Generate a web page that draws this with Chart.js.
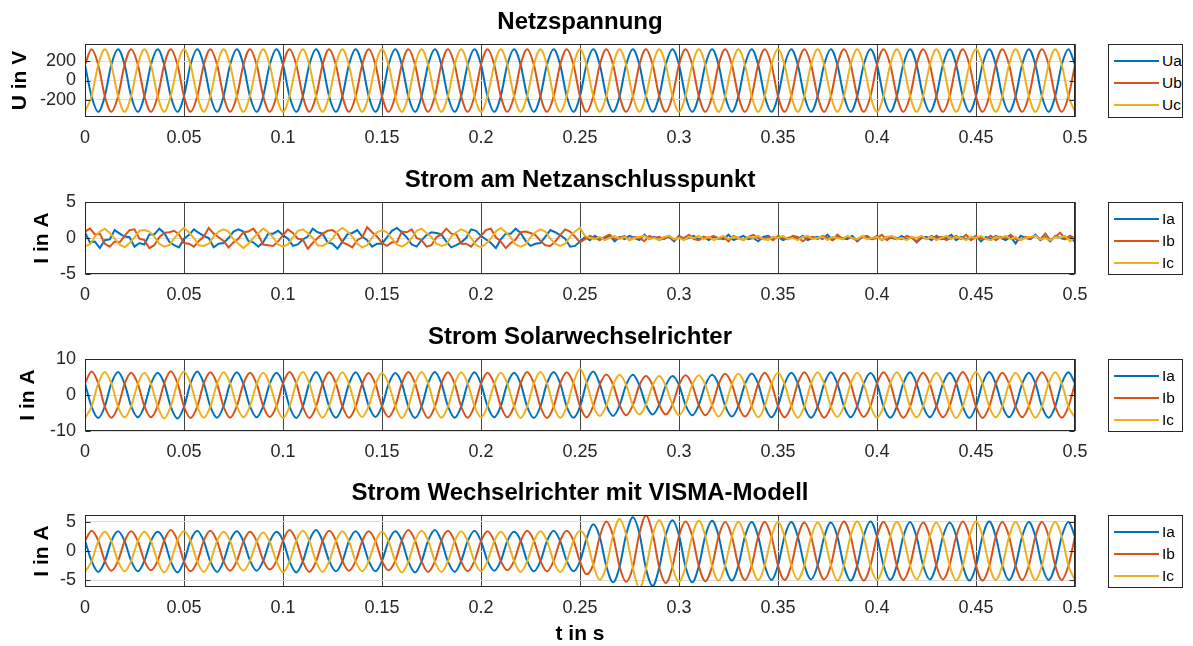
<!DOCTYPE html>
<html>
<head>
<meta charset="utf-8">
<script src="https://cdn.jsdelivr.net/npm/chart.js"></script>
<style>
html, body { margin: 0; padding: 0; background: #fff; overflow: hidden; width: 1193px; height: 646px; }
canvas { position: absolute; left: 0; }
.legende { position: absolute; left: 1108px; width: 75px; border: 1px solid #262626; background: #fff; box-sizing: border-box;
  font-family: "Liberation Sans", Arial, Helvetica, sans-serif; font-size: 15.5px; color: #000; }
.legende .zeile { position: absolute; left: 0; width: 100%; height: 22px; }
.legende .linie { position: absolute; left: 5px; top: 10px; width: 45px; height: 2px; }
.legende .text { position: absolute; left: 53px; top: 0; line-height: 22px; }
</style>
</head>
<body>
<canvas id="netzspannung" width="1193" height="157" style="top:0px"></canvas>
<canvas id="netzstrom" width="1193" height="156" style="top:158px"></canvas>
<canvas id="solarstrom" width="1193" height="156" style="top:315px"></canvas>
<canvas id="vismastrom" width="1193" height="176" style="top:471px"></canvas>
<script>
// Zeitachse (s), 6 Punkte pro Periode
var zeit = [
0,0.0033,0.0067,0.01,0.0133,0.0167,
0.02,0.0233,0.0267,0.03,0.0333,0.0367,
0.04,0.0433,0.0467,0.05,0.0533,0.0567,
0.06,0.0633,0.0667,0.07,0.0733,0.0767,
0.08,0.0833,0.0867,0.09,0.0933,0.0967,
0.1,0.1033,0.1067,0.11,0.1133,0.1167,
0.12,0.1233,0.1267,0.13,0.1333,0.1367,
0.14,0.1433,0.1467,0.15,0.1533,0.1567,
0.16,0.1633,0.1667,0.17,0.1733,0.1767,
0.18,0.1833,0.1867,0.19,0.1933,0.1967,
0.2,0.2033,0.2067,0.21,0.2133,0.2167,
0.22,0.2233,0.2267,0.23,0.2333,0.2367,
0.24,0.2433,0.2467,0.25,0.2533,0.2567,
0.26,0.2633,0.2667,0.27,0.2733,0.2767,
0.28,0.2833,0.2867,0.29,0.2933,0.2967,
0.3,0.3033,0.3067,0.31,0.3133,0.3167,
0.32,0.3233,0.3267,0.33,0.3333,0.3367,
0.34,0.3433,0.3467,0.35,0.3533,0.3567,
0.36,0.3633,0.3667,0.37,0.3733,0.3767,
0.38,0.3833,0.3867,0.39,0.3933,0.3967,
0.4,0.4033,0.4067,0.41,0.4133,0.4167,
0.42,0.4233,0.4267,0.43,0.4333,0.4367,
0.44,0.4433,0.4467,0.45,0.4533,0.4567,
0.46,0.4633,0.4667,0.47,0.4733,0.4767,
0.48,0.4833,0.4867,0.49,0.4933,0.4967,
0.5]

// Zeitachse Netzanschlusspunkt (s), 8 Punkte pro Periode
var zeitNetz = [
0,0.0025,0.005,0.0075,0.01,0.0125,0.015,0.0175,
0.02,0.0225,0.025,0.0275,0.03,0.0325,0.035,0.0375,
0.04,0.0425,0.045,0.0475,0.05,0.0525,0.055,0.0575,
0.06,0.0625,0.065,0.0675,0.07,0.0725,0.075,0.0775,
0.08,0.0825,0.085,0.0875,0.09,0.0925,0.095,0.0975,
0.1,0.1025,0.105,0.1075,0.11,0.1125,0.115,0.1175,
0.12,0.1225,0.125,0.1275,0.13,0.1325,0.135,0.1375,
0.14,0.1425,0.145,0.1475,0.15,0.1525,0.155,0.1575,
0.16,0.1625,0.165,0.1675,0.17,0.1725,0.175,0.1775,
0.18,0.1825,0.185,0.1875,0.19,0.1925,0.195,0.1975,
0.2,0.2025,0.205,0.2075,0.21,0.2125,0.215,0.2175,
0.22,0.2225,0.225,0.2275,0.23,0.2325,0.235,0.2375,
0.24,0.2425,0.245,0.2475,0.25,0.2525,0.255,0.2575,
0.26,0.2625,0.265,0.2675,0.27,0.2725,0.275,0.2775,
0.28,0.2825,0.285,0.2875,0.29,0.2925,0.295,0.2975,
0.3,0.3025,0.305,0.3075,0.31,0.3125,0.315,0.3175,
0.32,0.3225,0.325,0.3275,0.33,0.3325,0.335,0.3375,
0.34,0.3425,0.345,0.3475,0.35,0.3525,0.355,0.3575,
0.36,0.3625,0.365,0.3675,0.37,0.3725,0.375,0.3775,
0.38,0.3825,0.385,0.3875,0.39,0.3925,0.395,0.3975,
0.4,0.4025,0.405,0.4075,0.41,0.4125,0.415,0.4175,
0.42,0.4225,0.425,0.4275,0.43,0.4325,0.435,0.4375,
0.44,0.4425,0.445,0.4475,0.45,0.4525,0.455,0.4575,
0.46,0.4625,0.465,0.4675,0.47,0.4725,0.475,0.4775,
0.48,0.4825,0.485,0.4875,0.49,0.4925,0.495,0.4975,
0.5]

// Netzspannung (V)
var ua = [
163,-163,-325,-163,163,325, 163,-163,-325,-163,163,325, 163,-163,-325,-163,163,325, 163,-163,-325,-163,163,325, 163,-163,-325,-163,163,325,
163,-163,-325,-163,163,325, 163,-163,-325,-163,163,325, 163,-163,-325,-163,163,325, 163,-163,-325,-163,163,325, 163,-163,-325,-163,163,325,
163,-163,-325,-163,163,325, 163,-163,-325,-163,163,325, 163,-163,-325,-163,163,325, 163,-163,-325,-163,163,325, 163,-163,-325,-163,163,325,
163,-163,-325,-163,163,325, 163,-163,-325,-163,163,325, 163,-163,-325,-163,163,325, 163,-163,-325,-163,163,325, 163,-163,-325,-163,163,325,
163,-163,-325,-163,163,325, 163,-163,-325,-163,163,325, 163,-163,-325,-163,163,325, 163,-163,-325,-163,163,325, 163,-163,-325,-163,163,325,
163]
var ub = [
163,325,163,-163,-325,-163, 163,325,163,-163,-325,-163, 163,325,163,-163,-325,-163, 163,325,163,-163,-325,-163, 163,325,163,-163,-325,-163,
163,325,163,-163,-325,-163, 163,325,163,-163,-325,-163, 163,325,163,-163,-325,-163, 163,325,163,-163,-325,-163, 163,325,163,-163,-325,-163,
163,325,163,-163,-325,-163, 163,325,163,-163,-325,-163, 163,325,163,-163,-325,-163, 163,325,163,-163,-325,-163, 163,325,163,-163,-325,-163,
163,325,163,-163,-325,-163, 163,325,163,-163,-325,-163, 163,325,163,-163,-325,-163, 163,325,163,-163,-325,-163, 163,325,163,-163,-325,-163,
163,325,163,-163,-325,-163, 163,325,163,-163,-325,-163, 163,325,163,-163,-325,-163, 163,325,163,-163,-325,-163, 163,325,163,-163,-325,-163,
163]
var uc = [
-325,-163,163,325,163,-163, -325,-163,163,325,163,-163, -325,-163,163,325,163,-163, -325,-163,163,325,163,-163, -325,-163,163,325,163,-163,
-325,-163,163,325,163,-163, -325,-163,163,325,163,-163, -325,-163,163,325,163,-163, -325,-163,163,325,163,-163, -325,-163,163,325,163,-163,
-325,-163,163,325,163,-163, -325,-163,163,325,163,-163, -325,-163,163,325,163,-163, -325,-163,163,325,163,-163, -325,-163,163,325,163,-163,
-325,-163,163,325,163,-163, -325,-163,163,325,163,-163, -325,-163,163,325,163,-163, -325,-163,163,325,163,-163, -325,-163,163,325,163,-163,
-325,-163,163,325,163,-163, -325,-163,163,325,163,-163, -325,-163,163,325,163,-163, -325,-163,163,325,163,-163, -325,-163,163,325,163,-163,
-325]

// Strom am Netzanschlusspunkt (A)
var iaNetz = [
0.8,-0.6,-0.5,-1.4,-0.3,-0.2,1.1,0.6,
0.2,0.1,-1.2,-0.7,-0.9,0.5,0.5,1.3,
0.7,-0.5,-1.0,-1.3,-0.1,0.4,1.2,0.7,
0.3,0.0,-1.3,-0.8,-0.7,0.0,0.9,1.2,
0.9,-0.4,-0.6,-1.2,-0.6,0.6,0.6,1.0,
0.4,-0.1,-1.1,-0.9,-0.2,0.2,1.3,0.8,
0.6,-0.6,-0.8,-1.5,-0.5,0.5,0.7,1.1,
0.2,-0.3,-1.2,-0.8,-0.8,0.1,1.0,1.4,
0.8,0.1,-0.9,-1.2,-0.3,0.4,0.8,0.7,
0.5,-0.5,-1.3,-1.0,-0.6,0.0,1.2,1.0,
0.3,-0.2,-0.7,-1.4,-0.2,0.6,0.6,1.3,
0.7,-0.4,-1.1,-0.8,-0.7,0.2,1.1,0.8,
0.4,-0.1,-1.2,-1.1,-0.5,
0.15,-0.3,0.3,-0.15,0.0,0.3,-0.45,0.15,
-0.15,0.3,0.0,-0.3,0.45,-0.15,0.15,-0.3,
0.0,0.15,-0.45,0.3,-0.15,0.0,0.3,-0.15,
0.15,-0.3,0.15,0.0,-0.15,0.45,-0.3,0.0,
0.3,-0.15,0.0,-0.45,0.15,0.3,-0.15,0.15,
-0.3,0.0,0.15,-0.15,0.3,-0.3,0.0,0.15,
-0.15,0.45,-0.3,0.15,0.0,-0.15,0.3,-0.45,
0.15,0.0,-0.15,0.3,-0.3,0.15,0.0,-0.15,
0.3,-0.15,0.15,-0.6,0.0,0.15,-0.3,0.3,
-0.15,0.0,0.45,-0.3,0.15,-0.15,0.0,0.3,
-0.45,0.15,-0.15,0.3,0.0,-0.3,0.15,-0.75,
0.3,0.0,-0.15,0.45,-0.3,0.15,-0.45,0.3,
0.0,-0.15,0.3,-0.6]
var ibNetz = [
0.9,1.3,0.5,0.6,-0.8,-1.2,-0.5,-0.6,
0.3,1.1,1.2,-0.1,-0.3,-1.4,-1.0,0.1,
0.7,0.8,1.0,0.5,-0.7,-0.8,-1.2,-0.4,
0.2,1.4,0.6,0.1,-0.4,-1.3,-0.6,-0.1,
0.8,0.9,1.3,0.4,-0.9,-1.0,-1.1,-0.5,
0.4,1.2,0.7,-0.1,-0.2,-1.5,-0.7,0.0,
0.6,1.0,1.1,0.6,-0.6,-0.9,-1.3,-0.3,
0.1,1.5,0.8,0.2,-0.7,-1.1,-0.6,-0.6,
0.9,0.8,1.2,0.0,-0.3,-1.2,-1.0,0.1,
0.5,1.3,0.6,0.5,-0.8,-0.8,-1.2,-0.4,
0.3,1.1,1.3,0.1,-0.5,-1.4,-0.7,-0.2,
0.8,0.9,0.7,0.4,-0.4,-1.0,-1.1,-0.5,
0.4,1.2,0.9,0.2,-0.6,
-0.15,0.3,0.0,-0.3,0.15,0.45,-0.15,0.0,
0.3,-0.3,0.15,0.0,-0.45,0.3,0.0,0.15,
-0.15,0.3,-0.3,0.15,0.0,0.45,-0.15,-0.3,
0.15,0.0,0.3,-0.15,0.15,-0.45,0.3,0.0,
-0.3,0.15,0.45,0.0,-0.15,0.15,-0.3,0.3,
0.0,-0.15,0.3,0.15,-0.45,0.0,0.15,-0.15,
0.3,0.0,-0.3,0.45,-0.15,0.15,0.0,-0.3,
0.15,0.3,-0.15,0.0,0.45,-0.3,0.15,0.0,
-0.15,0.3,0.0,-0.45,0.15,-0.15,0.3,0.0,
0.15,-0.3,0.0,0.3,-0.15,0.45,-0.3,0.15,
0.0,-0.15,0.3,-0.3,0.15,0.0,0.45,-0.15,
-0.3,0.15,0.0,0.3,-0.15,0.6,-0.3,0.15,
0.75,-0.15,0.3,0.0]
var icNetz = [
-1.1,-0.9,0.2,0.9,1.3,0.7,-0.1,-0.9,
-1.3,-0.7,0.1,1.0,1.1,0.9,0.2,-0.8,
-1.2,-1.0,-0.1,0.8,1.4,0.8,0.0,-1.0,
-1.1,-0.8,0.2,0.9,1.2,0.9,-0.2,-0.8,
-1.4,-0.8,0.0,0.7,1.3,0.8,0.1,-0.9,
-1.2,-0.9,0.1,1.0,1.2,0.7,0.0,-1.0,
-1.1,-0.7,-0.1,0.9,1.4,0.9,0.2,-0.8,
-1.3,-1.0,0.1,0.8,1.1,0.8,-0.1,-0.9,
-1.2,-0.8,0.0,1.0,1.3,0.7,0.1,-0.8,
-1.1,-0.9,0.2,0.8,1.2,0.9,0.0,-1.0,
-1.3,-0.8,-0.1,0.9,1.4,0.8,0.1,-0.9,
-1.2,-0.9,0.1,0.8,1.2,0.9,-0.1,-0.8,
-1.1,-0.8,0.2,0.9,1.4,
0.3,0.0,-0.15,0.15,-0.3,0.0,0.3,-0.15,
0.15,-0.3,0.0,0.15,0.3,-0.15,0.0,-0.3,
0.15,0.3,-0.15,0.0,-0.3,0.15,0.0,0.3,
-0.15,0.15,-0.3,0.0,0.3,-0.15,0.15,0.0,
-0.3,0.15,0.0,0.3,-0.15,-0.3,0.15,0.0,
0.3,-0.15,0.0,-0.3,0.15,0.3,-0.15,0.0,
0.15,-0.3,0.15,0.0,-0.15,0.3,0.0,-0.15,
0.3,-0.15,0.0,0.15,-0.3,0.15,0.3,-0.15,
0.0,-0.3,0.15,0.0,0.3,-0.15,0.15,-0.3,
0.0,0.3,-0.15,0.15,0.0,-0.3,0.15,0.0,
0.3,-0.15,-0.3,0.15,0.0,0.3,-0.15,0.15,
-0.3,0.0,0.15,0.3,-0.15,0.0,-0.3,0.15,
0.0,0.3,-0.45,0.15]

// Strom Solarwechselrichter (A)
var iaSolar = [
3.2,-3.2,-6.4,-3.2,3.2,6.4, 3.1,-3.1,-6.2,-3.1,3.1,6.2, 3.2,-3.2,-6.5,-3.3,3.2,6.5, 3.2,-3.2,-6.3,-3.1,3.2,6.3, 3.1,-3.1,-6.2,-3.1,3.1,6.2,
3.2,-3.2,-6.4,-3.2,3.2,6.4, 3.1,-3.2,-6.3,-3.2,3.1,6.3, 3.1,-3.0,-6.1,-3.1,3.0,6.1, 3.2,-3.2,-6.4,-3.2,3.2,6.4, 3.2,-3.1,-6.3,-3.2,3.1,6.3,
3.1,-3.1,-6.2,-3.1,3.1,6.2, 3.2,-3.2,-6.4,-3.2,3.2,6.4, 3.2,-3.2,-6.3,-3.3,3.3,6.5, 3.0,-2.9,-5.8,-2.9,2.8,5.6, 2.7,-2.7,-5.4,-2.7,2.6,5.3,
2.8,-2.8,-5.6,-2.8,2.8,5.6, 2.9,-3.0,-6.0,-3.0,3.0,6.0, 3.1,-3.1,-6.2,-3.1,3.1,6.2, 3.2,-3.2,-6.3,-3.2,3.1,6.3, 3.1,-3.1,-6.2,-3.1,3.1,6.1,
3.2,-3.2,-6.3,-3.2,3.2,6.3, 3.1,-3.1,-6.2,-3.1,3.1,6.2, 3.2,-3.2,-6.4,-3.2,3.2,6.4, 3.1,-3.1,-6.2,-3.1,3.1,6.2, 3.2,-3.2,-6.3,-3.2,3.2,6.3,
3.2]
var ibSolar = [
3.2,6.5,3.2,-3.2,-6.3,-3.2, 3.1,6.2,3.1,-3.1,-6.2,-3.1, 3.2,6.6,3.3,-3.2,-6.4,-3.2, 3.2,6.3,3.1,-3.2,-6.3,-3.1, 3.1,6.2,3.1,-3.1,-6.1,-3.1,
3.2,6.4,3.2,-3.2,-6.4,-3.2, 3.1,6.3,3.2,-3.1,-6.3,-3.2, 3.1,6.1,3.0,-3.1,-6.1,-3.0, 3.2,6.4,3.2,-3.2,-6.4,-3.2, 3.2,6.3,3.1,-3.2,-6.3,-3.1,
3.1,6.2,3.1,-3.1,-6.2,-3.1, 3.2,6.4,3.2,-3.2,-6.4,-3.2, 3.2,6.3,3.2,-3.1,-6.2,-3.0, 2.9,5.7,2.9,-2.8,-5.6,-2.8, 2.7,5.3,2.7,-2.7,-5.4,-2.7,
2.8,5.5,2.8,-2.8,-5.6,-2.9, 3.0,5.9,3.0,-3.0,-6.0,-3.0, 3.1,6.2,3.1,-3.1,-6.2,-3.1, 3.2,6.3,3.1,-3.2,-6.3,-3.2, 3.1,6.2,3.1,-3.1,-6.1,-3.1,
3.2,6.3,3.2,-3.2,-6.3,-3.2, 3.1,6.2,3.1,-3.1,-6.2,-3.1, 3.2,6.4,3.2,-3.2,-6.4,-3.2, 3.1,6.2,3.1,-3.1,-6.2,-3.1, 3.2,6.3,3.2,-3.2,-6.3,-3.2,
3.2]
var icSolar = [
-6.4,-3.2,3.2,6.4,3.2,-3.2, -6.2,-3.1,3.1,6.2,3.1,-3.1, -6.5,-3.2,3.3,6.5,3.2,-3.2, -6.3,-3.2,3.1,6.3,3.2,-3.1, -6.2,-3.1,3.1,6.2,3.1,-3.1,
-6.4,-3.2,3.2,6.4,3.2,-3.2, -6.3,-3.1,3.2,6.3,3.1,-3.2, -6.1,-3.1,3.0,6.1,3.1,-3.0, -6.4,-3.2,3.2,6.4,3.2,-3.2, -6.3,-3.2,3.1,6.3,3.2,-3.1,
-6.2,-3.1,3.1,6.2,3.1,-3.1, -6.4,-3.2,3.2,6.4,3.2,-3.2, -6.3,-3.2,3.4,7.2,3.4,-3.0, -5.8,-2.9,2.8,5.6,2.8,-2.8, -5.4,-2.7,2.7,5.3,2.6,-2.7,
-5.6,-2.8,2.8,5.5,2.8,-2.9, -6.0,-3.0,3.0,5.9,3.0,-3.0, -6.2,-3.1,3.1,6.2,3.1,-3.1, -6.3,-3.2,3.2,6.3,3.1,-3.2, -6.1,-3.1,3.1,6.2,3.1,-3.1,
-6.3,-3.2,3.2,6.3,3.2,-3.2, -6.2,-3.1,3.1,6.2,3.1,-3.1, -6.4,-3.2,3.2,6.4,3.2,-3.2, -6.2,-3.1,3.1,6.2,3.1,-3.1, -6.3,-3.2,3.2,6.3,3.2,-3.2,
-6.3]

// Strom Wechselrichter mit VISMA-Modell (A)
var iaVisma = [
1.8,-1.7,-3.6,-1.8,1.7,3.4, 1.7,-1.7,-3.5,-1.7,1.7,3.3, 1.8,-1.8,-3.7,-1.8,1.8,3.5, 1.7,-1.8,-3.6,-1.7,1.8,3.4, 1.7,-1.6,-3.4,-1.7,1.6,3.3,
1.8,-1.8,-3.7,-1.8,1.8,3.6, 1.7,-1.7,-3.5,-1.8,1.7,3.4, 1.7,-1.7,-3.5,-1.7,1.7,3.4, 1.8,-1.8,-3.7,-1.8,1.8,3.6, 1.7,-1.8,-3.6,-1.7,1.7,3.5,
1.7,-1.7,-3.4,-1.7,1.7,3.3, 1.8,-1.7,-3.5,-1.8,1.7,3.5, 1.7,-1.7,-3.5,-1.8,2.1,4.6, 2.4,-2.6,-5.4,-2.7,2.8,5.8, 3.0,-3.0,-6.0,-2.9,2.7,5.3,
2.7,-2.7,-5.4,-2.6,2.6,5.2, 2.6,-2.6,-5.1,-2.5,2.5,5.0, 2.5,-2.5,-5.0,-2.5,2.5,5.0, 2.5,-2.4,-4.9,-2.5,2.4,4.9, 2.5,-2.6,-5.1,-2.5,2.6,5.1,
2.5,-2.5,-5.0,-2.5,2.5,5.0, 2.4,-2.5,-4.9,-2.4,2.5,4.9, 2.6,-2.5,-5.1,-2.6,2.5,5.1, 2.5,-2.5,-5.0,-2.5,2.5,5.0, 2.5,-2.5,-5.0,-2.5,2.5,5.0,
2.5]
var ibVisma = [
1.7,3.5,1.8,-1.7,-3.4,-1.7, 1.7,3.4,1.7,-1.7,-3.3,-1.7, 1.8,3.6,1.8,-1.8,-3.5,-1.8, 1.8,3.5,1.7,-1.8,-3.4,-1.7, 1.6,3.3,1.7,-1.6,-3.2,-1.7,
1.8,3.6,1.8,-1.8,-3.6,-1.8, 1.7,3.5,1.8,-1.7,-3.4,-1.7, 1.7,3.4,1.7,-1.7,-3.3,-1.7, 1.8,3.6,1.8,-1.8,-3.6,-1.8, 1.8,3.5,1.7,-1.8,-3.5,-1.7,
1.7,3.4,1.7,-1.7,-3.3,-1.7, 1.7,3.5,1.8,-1.7,-3.5,-1.7, 1.8,3.5,1.8,-1.8,-4.0,-2.3, 2.5,5.1,2.6,-2.7,-5.3,-2.8, 3.0,6.1,3.0,-2.8,-5.5,-2.7,
2.6,5.1,2.6,-2.6,-5.2,-2.6, 2.5,5.0,2.5,-2.5,-5.0,-2.5, 2.5,5.0,2.5,-2.5,-5.0,-2.5, 2.4,4.9,2.5,-2.4,-4.9,-2.5, 2.6,5.1,2.5,-2.6,-5.1,-2.5,
2.5,5.0,2.5,-2.5,-5.0,-2.5, 2.5,4.9,2.4,-2.5,-4.9,-2.4, 2.5,5.1,2.6,-2.5,-5.1,-2.6, 2.5,5.0,2.5,-2.5,-5.0,-2.5, 2.5,5.0,2.5,-2.5,-5.0,-2.5,
2.5]
var icVisma = [
-3.6,-1.8,1.7,3.3,1.7,-1.8, -3.5,-1.7,1.7,3.3,1.7,-1.7, -3.7,-1.8,1.8,3.4,1.8,-1.8, -3.6,-1.8,1.7,3.3,1.7,-1.8, -3.4,-1.7,1.6,3.2,1.6,-1.7,
-3.7,-1.8,1.8,3.5,1.8,-1.8, -3.6,-1.8,1.7,3.4,1.7,-1.8, -3.5,-1.7,1.7,3.3,1.7,-1.7, -3.7,-1.8,1.8,3.5,1.8,-1.8, -3.6,-1.8,1.7,3.4,1.7,-1.8,
-3.5,-1.7,1.7,3.3,1.7,-1.7, -3.6,-1.8,1.7,3.4,1.8,-1.8, -3.6,-1.8,1.8,3.5,2.0,-2.4, -5.0,-2.6,2.7,5.5,2.8,-2.9, -6.4,-3.1,2.7,5.3,2.6,-2.7,
-5.3,-2.7,2.6,5.2,2.6,-2.6, -5.1,-2.5,2.5,5.0,2.5,-2.5, -5.0,-2.5,2.5,5.0,2.5,-2.5, -4.9,-2.5,2.4,4.9,2.5,-2.4, -5.1,-2.5,2.6,5.1,2.5,-2.6,
-5.0,-2.5,2.5,5.0,2.5,-2.5, -4.9,-2.4,2.5,4.9,2.4,-2.5, -5.1,-2.6,2.5,5.1,2.6,-2.5, -5.0,-2.5,2.5,5.0,2.5,-2.5, -5.0,-2.5,2.5,5.0,2.5,-2.5,
-5.0]

// Achsen und Beschriftungen
var xTicks = [0, 0.05, 0.1, 0.15, 0.2, 0.25, 0.3, 0.35, 0.4, 0.45, 0.5]
var xTickLabels = ['0', '0.05', '0.1', '0.15', '0.2', '0.25', '0.3', '0.35', '0.4', '0.45', '0.5']
var yTicksSpannung = [-200, 0, 200]
var yTicksNetz = [-5, 0, 5]
var yTicksSolar = [-10, 0, 10]
var yTicksVisma = [-5, 0, 5]
var titel = ['Netzspannung', 'Strom am Netzanschlusspunkt', 'Strom Solarwechselrichter', 'Strom Wechselrichter mit VISMA-Modell']
var namenU = ['Ua', 'Ub', 'Uc']
var namenI = ['Ia', 'Ib', 'Ic']
var farben = ['#0072BD', '#D95319', '#EDB120']

var schrift = '"Liberation Sans", Arial, Helvetica, sans-serif'
Chart.defaults.font.family = schrift

// Achsenrahmen mit kleinen Ticks wie in MATLAB
var rahmen = {
    id: 'rahmen',
    afterDatasetsDraw: function (chart) {
        var a = chart.chartArea
        var ctx = chart.ctx
        var l = Math.round(a.left) + 0.5
        var r = Math.round(a.right) - 0.5
        var t = Math.round(a.top) + 0.5
        var b = Math.round(a.bottom) - 0.5
        ctx.save()
        ctx.strokeStyle = '#262626'
        ctx.lineWidth = 1
        ctx.beginPath()
        chart.scales.y.ticks.forEach(function (tk) {
            var py = Math.round(chart.scales.y.getPixelForValue(tk.value)) + 0.5
            ctx.moveTo(l, py); ctx.lineTo(l + 5, py)
            ctx.moveTo(r, py); ctx.lineTo(r - 5, py)
        })
        ctx.stroke()
        ctx.strokeRect(l, t, r - l, b - t)
        ctx.restore()
    }
}

function legende(chart, canvasTop) {
    var a = chart.chartArea
    var box = document.createElement('div')
    box.className = 'legende'
    box.style.top = (canvasTop + Math.round(a.top)) + 'px'
    box.style.height = (Math.round(a.bottom) - Math.round(a.top) + 1) + 'px'
    var abstand = [5, 27, 49]
    chart.data.datasets.forEach(function (ds, i) {
        var zeile = document.createElement('div')
        zeile.className = 'zeile'
        zeile.style.top = abstand[i] + 'px'
        var linie = document.createElement('div')
        linie.className = 'linie'
        linie.style.background = ds.borderColor
        var text = document.createElement('div')
        text.className = 'text'
        text.textContent = ds.label
        zeile.appendChild(linie)
        zeile.appendChild(text)
        box.appendChild(zeile)
    })
    document.body.appendChild(box)
}

function painel(id, canvasTop, t, serien, namen, titelText, yTitel, yMin, yMax, yTicks, yTitelPad, glatt, xTitel, xHoehe) {
    var canvas = document.getElementById(id)

    var datasets = serien.map(function (werte, i) {
        return {
            label: namen[i],
            data: werte.map(function (v, k) { return { x: t[k], y: v } }),
            borderColor: farben[i],
            backgroundColor: farben[i],
            borderWidth: 2,
            pointRadius: 0,
            fill: false,
            order: 3 - i,
            tension: 0,
            cubicInterpolationMode: glatt ? 'monotone' : 'default'
        }
    })

    var chart = new Chart(canvas, {
        type: 'line',
        data: { datasets: datasets },
        options: {
            responsive: false,
            animation: false,
            events: [],
            layout: { padding: { left: 0, right: 118, top: 0, bottom: 0 } },
            plugins: {
                legend: { display: false },
                tooltip: { enabled: false },
                title: {
                    display: true,
                    text: titelText,
                    fullSize: false,
                    color: '#000',
                    font: { size: 24, weight: 'bold' },
                    padding: { top: 8, bottom: 7.2 }
                }
            },
            scales: {
                x: {
                    type: 'linear',
                    min: 0,
                    max: 0.5,
                    afterBuildTicks: function (s) { s.ticks = xTicks.map(function (v) { return { value: v } }) },
                    afterFit: function (s) { s.height = xHoehe },
                    grid: { color: 'rgba(38,38,38,0.85)', drawTicks: false },
                    border: { display: false },
                    ticks: {
                        padding: 10,
                        color: '#262626',
                        font: { size: 18 },
                        maxRotation: 0,
                        autoSkip: false,
                        callback: function (v, i) { return xTickLabels[i] }
                    },
                    title: {
                        display: xTitel != null,
                        text: xTitel || '',
                        color: '#000',
                        font: { size: 21, weight: 'bold' },
                        padding: { top: 0, bottom: 0 }
                    }
                },
                y: {
                    min: yMin,
                    max: yMax,
                    afterBuildTicks: function (s) { s.ticks = yTicks.map(function (v) { return { value: v } }) },
                    afterFit: function (s) { s.width = 85 },
                    grid: { color: '#dcdcdc', drawTicks: false },
                    border: { display: false },
                    ticks: {
                        padding: 9,
                        color: '#262626',
                        font: { size: 18 },
                        callback: function (v) { return String(v) }
                    },
                    title: {
                        display: true,
                        text: yTitel,
                        color: '#000',
                        font: { size: 21, weight: 'bold' },
                        padding: { top: yTitelPad, bottom: 0 }
                    }
                }
            }
        },
        plugins: [rahmen]
    })

    legende(chart, canvasTop)
}

painel('netzspannung', 0, zeit, [ua, ub, uc], namenU, titel[0], 'U in V', -380, 380, yTicksSpannung, 7.4, true, null, 40)
painel('netzstrom', 158, zeitNetz, [iaNetz, ibNetz, icNetz], namenI, titel[1], 'I in A', -5, 5, yTicksNetz, 30, false, null, 40)
painel('solarstrom', 315, zeit, [iaSolar, ibSolar, icSolar], namenI, titel[2], 'I in A', -10, 10, yTicksSolar, 16, true, null, 40)
painel('vismastrom', 471, zeit, [iaVisma, ibVisma, icVisma], namenI, titel[3], 'I in A', -6.2, 6.2, yTicksVisma, 30, true, 't in s', 60)
</script>
</body>
</html>
